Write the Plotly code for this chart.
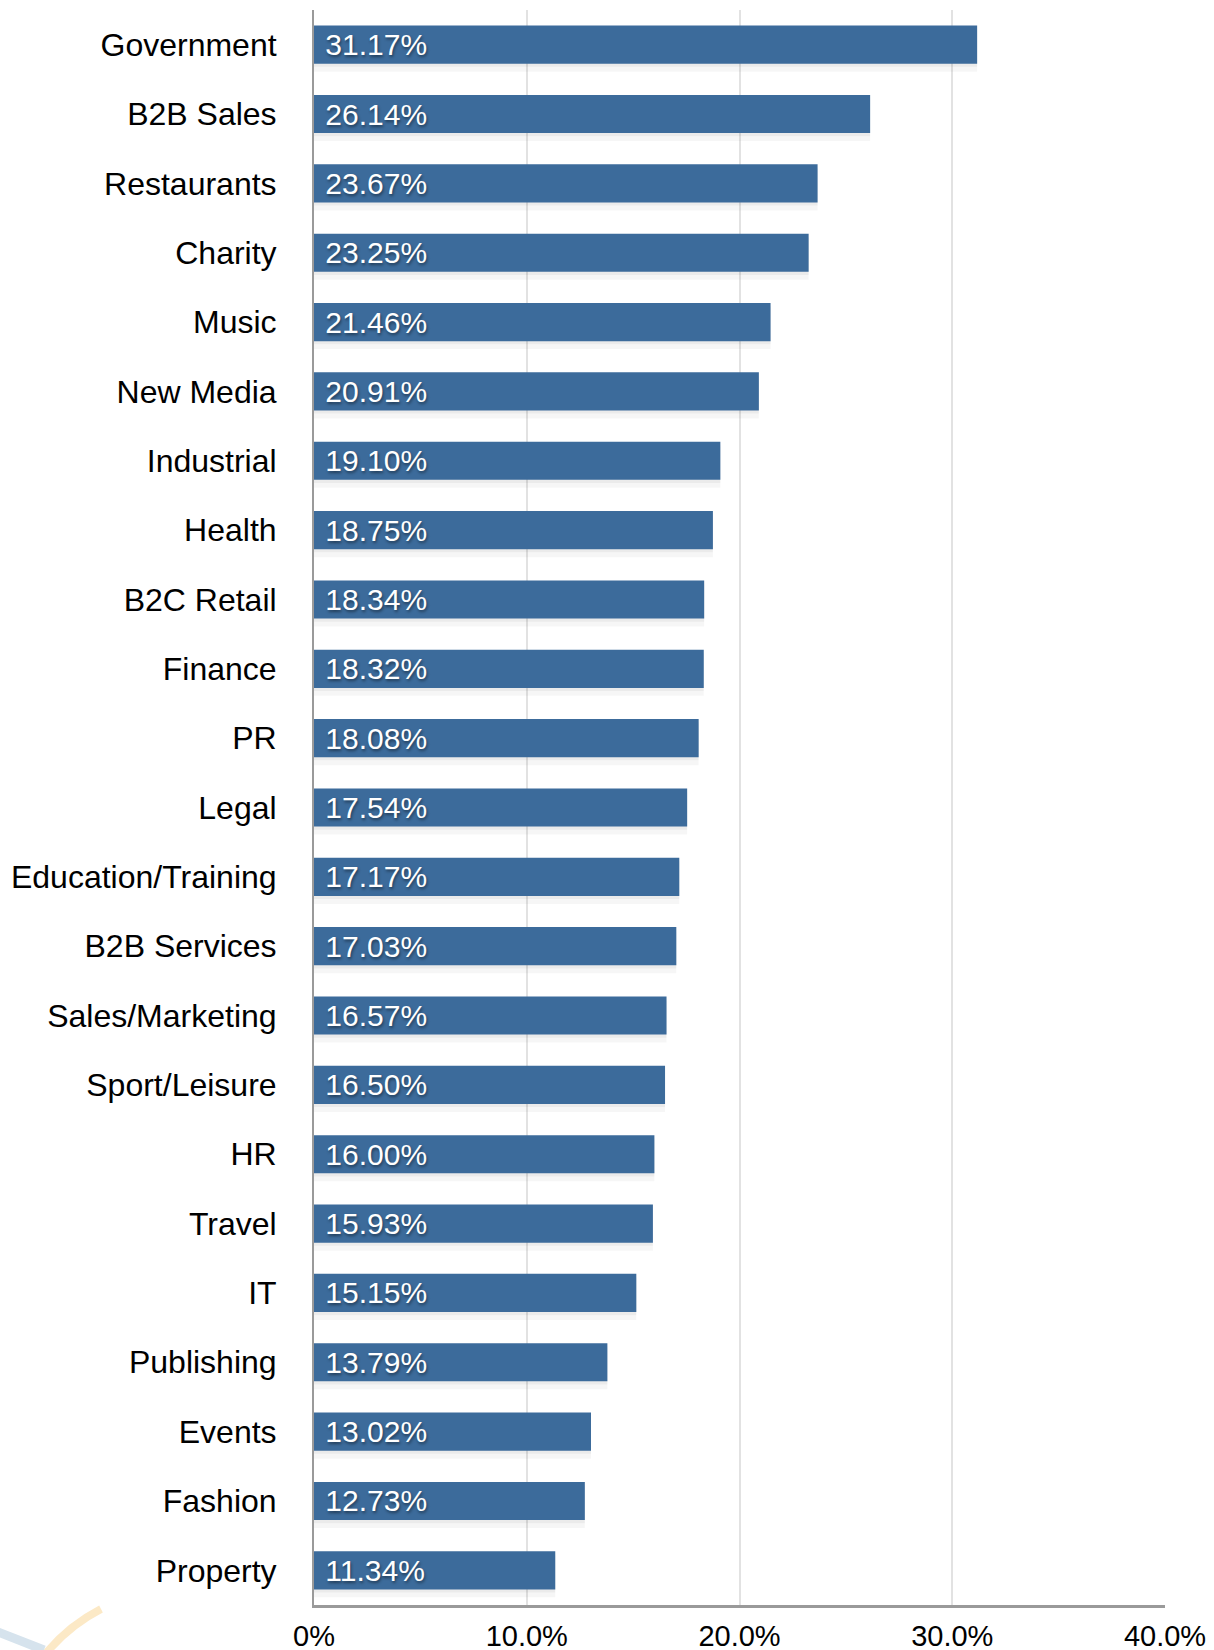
import plotly.graph_objects as go

categories = ["Government", "B2B Sales", "Restaurants", "Charity", "Music", "New Media",
              "Industrial", "Health", "B2C Retail", "Finance", "PR", "Legal",
              "Education/Training", "B2B Services", "Sales/Marketing", "Sport/Leisure",
              "HR", "Travel", "IT", "Publishing", "Events", "Fashion", "Property"]
values = [31.17, 26.14, 23.67, 23.25, 21.46, 20.91, 19.10, 18.75, 18.34, 18.32, 18.08,
          17.54, 17.17, 17.03, 16.57, 16.50, 16.00, 15.93, 15.15, 13.79, 13.02, 12.73, 11.34]
tick_vals = [0, 10, 20, 30, 40]
tick_text = ["0%", "10.0%", "20.0%", "30.0%", "40.0%"]

FONT = "Liberation Sans, Arial, Helvetica, sans-serif"
BAR = "#3C6B9B"

fig = go.Figure()
# soft drop shadow under bars
for off, w, a in [(-0.21, 0.6, 0.035), (-0.23, 0.55, 0.045)]:
    fig.add_trace(go.Bar(
        y=categories, x=values, orientation="h",
        width=w, offset=off,
        marker=dict(color=f"rgba(0,0,0,{a})", line=dict(width=0)),
        hoverinfo="skip", showlegend=False,
    ))
fig.add_trace(go.Bar(
    y=categories, x=values, orientation="h",
    width=0.55, offset=-0.275,
    marker=dict(color=BAR, line=dict(width=0)),
    texttemplate=" %{x:.2f}%",
    textposition="inside", insidetextanchor="start",
    constraintext="none",
    textfont=dict(family=FONT, size=30, color="white",
                  shadow="1px 2px 3px rgba(0,0,0,0.45)"),
    showlegend=False,
))

W, H = 1214, 1650
L, R, T, B = 314, 49, 10, 45
pw, ph = W - L - R, H - T - B

def px(x):
    return (x - L) / pw

def py(y):
    return (H - B - y) / ph

fig.update_layout(
    width=W, height=H,
    margin=dict(l=L, r=R, t=T, b=B, autoexpand=False),
    plot_bgcolor="white", paper_bgcolor="white",
    barmode="overlay",
    font=dict(family=FONT, color="black"),
    xaxis=dict(
        range=[0, 40], tickvals=tick_vals, ticktext=tick_text,
        showgrid=True, gridcolor="#e2e2e2", gridwidth=2,
        showline=True, linecolor="#9a9a9a", linewidth=3,
        zeroline=False, ticks="", ticklabelstandoff=3,
        tickfont=dict(size=29, color="black", family=FONT),
        automargin=False, fixedrange=True,
    ),
    yaxis=dict(
        autorange="reversed",
        showline=True, linecolor="#9a9a9a", linewidth=2,
        showgrid=False, zeroline=False, ticks="",
        ticklabelstandoff=29,
        tickfont=dict(size=32, color="black", family=FONT),
        automargin=False, fixedrange=True,
    ),
    shapes=[
        dict(type="path", xref="paper", yref="paper",
             path=f"M {px(101)},{py(1609)} Q {px(70)},{py(1625)} {px(47)},{py(1652)}",
             line=dict(color="#FCE9C6", width=8), layer="below"),
        dict(type="path", xref="paper", yref="paper",
             path=f"M {px(-2)},{py(1632)} L {px(44)},{py(1650)}",
             line=dict(color="#D6E3ED", width=9), layer="below"),
    ],
)

fig.write_html("out.html")
